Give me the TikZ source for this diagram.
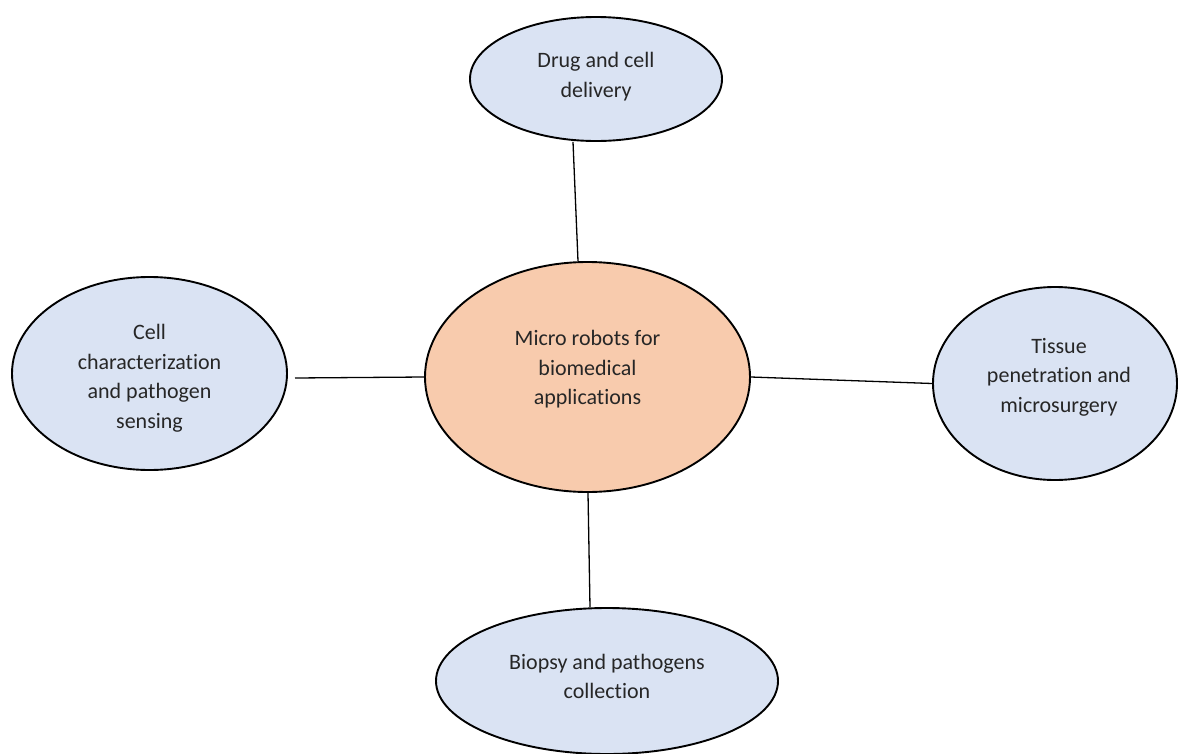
\documentclass[tikz,border=0pt]{standalone}
\usepackage{fontspec}
\setmainfont{Carlito}[Ligatures=NoCommon]
\usetikzlibrary{shapes.geometric}
\definecolor{bluefill}{HTML}{DAE3F3}
\definecolor{peach}{HTML}{F8CBAD}
\tikzset{
  bubble/.style={ellipse, draw=black, line width=1.9pt, fill=bluefill, inner sep=0pt},
  hub/.style={bubble, fill=peach},
  caption/.style={align=center, inner sep=0pt, font=\fontsize{22}{29.5}\selectfont, text=black!85},
  link/.style={draw=black, line width=1.3pt}
}
\begin{document}
\begin{tikzpicture}[x=1pt,y=-1pt]
\useasboundingbox (0,0) rectangle (1179,753);
% ellipses
\node[hub, minimum width=325pt, minimum height=230pt] (c) at (587.5,377) {};
\node[bubble, minimum width=252pt, minimum height=124pt] (t) at (596,79) {};
\node[bubble, minimum width=275pt, minimum height=193pt] (l) at (149.5,373.5) {};
\node[bubble, minimum width=244pt, minimum height=193pt] (r) at (1055,383.5) {};
\node[bubble, minimum width=342pt, minimum height=146pt] (b) at (607,681) {};
% texts
\node[caption] (ct) at (587.5,369.5) {Micro robots for\\biomedical\\applications};
\node[caption] (tt) at (596,76.5) {Drug and cell\\delivery};
\node[caption] (lt) at (149.5,378) {Cell\\characterization\\and pathogen\\sensing};
\node[caption] (rt) at (1059,377) {Tissue\\penetration and\\microsurgery};
\node[caption] (bt) at (607,676.5) {Biopsy and pathogens\\collection};
% connectors
\coordinate (lstart) at (295,378);
\draw[link] (t.south -| 573,0) -- (c.north -| 578,0);
\draw[link] (lstart) -- (c.west);
\draw[link] (c.east) -- (r.west);
\draw[link] (c.south -| 588,0) -- (b.north -| 590,0);
\end{tikzpicture}
\end{document}
